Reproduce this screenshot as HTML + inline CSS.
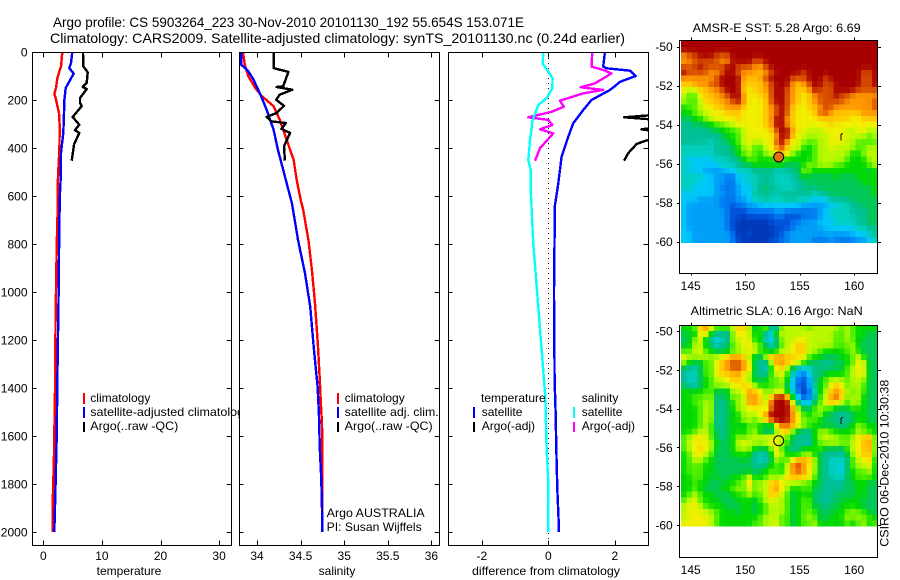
<!DOCTYPE html>
<html lang="en">
<head>
<meta charset="utf-8">
<title>Argo profile CS 5903264_223</title>
<style>
html,body{margin:0;padding:0;background:#fff;}
svg{display:block;}
text{font-family:"Liberation Sans",sans-serif;font-size:12px;fill:#000;}
.big{font-size:14px;}
</style>
</head>
<body>
<svg id="chart" xmlns="http://www.w3.org/2000/svg" width="900" height="580" viewBox="0 0 900 580">
  <defs>
    <clipPath id="diff-clip"><rect x="449" y="53" width="199" height="492"/></clipPath>
    <clipPath id="legend-clip"><rect x="33" y="53" width="206" height="492"/></clipPath>
  </defs>
  <rect x="0" y="0" width="900" height="580" fill="#fff"/>
  <g id="p1"></g>
  <g clip-path="url(#legend-clip)">
    <rect x="83" y="393" width="2" height="11" fill="#f00"/>
    <text x="90.3" y="402">climatology</text>
    <rect x="83" y="407" width="2" height="11" fill="#00f"/>
    <text x="90.3" y="416" textLength="160" lengthAdjust="spacingAndGlyphs">satellite-adjusted climatology</text>
    <rect x="83" y="422" width="2" height="10" fill="#000"/>
    <text x="90.3" y="430" textLength="88" lengthAdjust="spacingAndGlyphs">Argo(..raw -QC)</text>
  </g>
  <g id="p2"></g>
  <g>
    <rect x="337" y="393" width="2" height="11" fill="#f00"/>
    <text x="344.7" y="402">climatology</text>
    <rect x="337" y="407" width="2" height="11" fill="#00f"/>
    <text x="344.7" y="416" textLength="94" lengthAdjust="spacingAndGlyphs">satellite adj. clim.</text>
    <rect x="337" y="422" width="2" height="10" fill="#000"/>
    <text x="344.7" y="430" textLength="88" lengthAdjust="spacingAndGlyphs">Argo(..raw -QC)</text>
    <text x="326.7" y="517" textLength="98" lengthAdjust="spacingAndGlyphs">Argo AUSTRALIA</text>
    <text x="326.7" y="531" textLength="95" lengthAdjust="spacingAndGlyphs">PI: Susan Wijffels</text>
  </g>
  <g id="p3"></g>
  <g>
    <text x="481" y="402">temperature</text>
    <rect x="473" y="407" width="2" height="11" fill="#00f"/>
    <text x="481.7" y="416">satellite</text>
    <rect x="473" y="422" width="2" height="10" fill="#000"/>
    <text x="481.7" y="430">Argo(-adj)</text>
    <text x="581.7" y="402">salinity</text>
    <rect x="573" y="407" width="2" height="11" fill="#0ff"/>
    <text x="581.7" y="416">satellite</text>
    <rect x="573" y="422" width="2" height="10" fill="#f0f"/>
    <text x="581.7" y="430">Argo(-adj)</text>
  </g>
  <g id="m1"></g>
  <g id="m2"></g>

  <text class="big" x="53" y="27" textLength="471" lengthAdjust="spacingAndGlyphs">Argo profile: CS 5903264_223 30-Nov-2010 20101130_192 55.654S 153.071E</text>
  <text class="big" x="50" y="43" textLength="575" lengthAdjust="spacingAndGlyphs">Climatology: CARS2009. Satellite-adjusted climatology: synTS_20101130.nc (0.24d earlier)</text>
  <text x="129" y="575" text-anchor="middle">temperature</text>
  <text x="337" y="575" text-anchor="middle">salinity</text>
  <text x="472" y="575" textLength="148" lengthAdjust="spacingAndGlyphs">difference from climatology</text>
  <text x="692.7" y="32" textLength="168" lengthAdjust="spacingAndGlyphs">AMSR-E SST: 5.28 Argo: 6.69</text>
  <text x="690.7" y="315" textLength="172" lengthAdjust="spacingAndGlyphs">Altimetric SLA: 0.16 Argo: NaN</text>
  <text transform="translate(888.7,546.7) rotate(-90)" textLength="167" lengthAdjust="spacingAndGlyphs">CSIRO 06-Dec-2010 10:30:38</text>
</svg>

<script>
// ---- axis tick values ----
const depthTicks = [0,200,400,600,800,1000,1200,1400,1600,1800,2000];
const tempTicks = [0,10,20,30];
const salTicks = [34,34.5,35,35.5,36];
const diffTicks = [-2,0,2];
const lonTicks = [145,150,155,160];
const latTicks = [-50,-52,-54,-56,-58,-60];

// ---- temperature panel ----
const climTempDepth = [0,60,73,108,150,175,192,226,254,310,407,490,533,615,811,1103,1408,1679,1880,2000];
const climTemp = [3.24,3.02,2.85,2.4,2.17,1.88,2.11,2.4,2.68,2.8,2.74,2.56,2.5,2.5,2.28,2.1,2.0,1.83,1.6,1.6];
const satTempDepth = [0,46,67,90,112,150,199,254,337,420,533,587,713,978,1353,1600,1850,2000];
const satTemp = [4.95,4.73,4.44,5.18,4.67,3.82,3.6,3.53,3.42,3.02,2.96,2.85,2.73,2.62,2.4,2.28,2.05,1.88];
const argoTempDepth = [0,60,67,85,129,146,154,192,212,226,271,303,326,337,386,453];
const argoTemp = [6.77,6.83,7.06,7.57,7.4,6.72,7.4,6.26,6.26,6.55,5.0,6.15,5.4,6.15,5.24,4.85];

// ---- salinity panel ----
const climSalDepth = [0,53,101,150,182,226,282,365,449,533,615,658,783,908,1047,1228,1367,1450,1553,1650,2000];
const climSal = [33.84,33.86,33.9,33.98,34.05,34.19,34.26,34.34,34.42,34.455,34.5,34.53,34.59,34.63,34.665,34.7,34.72,34.73,34.745,34.75,34.75];
const satSalDepth = [0,53,80,115,178,240,324,407,518,533,630,783,922,1061,1242,1394,1505,1650,1782,1978,2000];
const satSal = [33.82,33.82,33.9,33.96,34.04,34.11,34.19,34.24,34.32,34.33,34.4,34.47,34.55,34.61,34.654,34.695,34.71,34.72,34.737,34.75,34.75];
const argoSalDepth = [0,67,83,143,146,157,178,199,224,254,271,289,296,321,337,393,453];
const argoSal = [34.19,34.19,34.36,34.3,34.225,34.405,34.26,34.22,34.31,34.225,34.11,34.17,34.33,34.28,34.38,34.31,34.32];

// ---- difference panel ----
const satTempDiffDepth = [5,61,68,78,100,124,158,200,242,297,353,436,547,640,1000,1367,1500,1650,1820,1950,2000];
const satTempDiff = [1.7,1.65,1.75,2.46,2.63,2.16,1.86,1.3,1.05,0.75,0.6,0.4,0.3,0.2,0.17,0.19,0.22,0.24,0.27,0.31,0.31];
const satSalDiffDepth = [5,47,82,110,151,193,221,283,367,450,492,575,800,1100,1367,1436,1653,1792,2000];
const satSalDiff = [-0.15,-0.17,0,0.13,0.12,-0.05,-0.3,-0.47,-0.55,-0.6,-0.53,-0.53,-0.45,-0.28,-0.13,-0.09,-0.05,0,0];
const argoSalDiffDepth = [5,61,75,89,110,131,147,158,172,203,228,249,272,283,304,322,339,401,453];
const argoSalDiff = [1.32,1.3,1.65,1.9,1.65,1.4,0.97,1.65,1.06,0.35,0.47,0.1,-0.6,0,0.12,-0.25,0.15,-0.25,-0.4];
const argoTempDiffDepth = [255,262,272,283,295,315,322,330,364,383,422,453];
const argoTempDiff = [3.4,3.2,2.28,3.3,3.4,3.2,2.8,3.2,3.05,2.66,2.4,2.28];

// ---- maps ----
const argoLon = 153.071;
const argoLat = -55.654;
const islandLon = [158.95,158.8,158.8];
const islandLat = [-54.45,-54.5,-54.8];
// each row = one latitude band (north to south); each hex digit = colour level 0..15, grouped in sixes for reading
const sstRows = [
"ffffff ffffff ffffff ffffff ffffff ffffff",
"ffffff ffffff ffffff ffffff ffffff ffffff",
"deefff eeefff ffffff ffffff ffffff ffffff",
"ddeeee eddfff feefff ffffff ffffff ffffff",
"eeefee eeffee eddeff ffffff ffffff ffffff",
"feeeed deffed ddcdef ffffef ffffff fffeef",
"dddddd effffd ccdeff ffeeef ffefff fffeef",
"ccddde effffc cccdef ffdcde ffeeff fffeef",
"baaccd defffc bccdef fedccd feeeff ffeeee",
"a99bcc ddeffd bbccef fedcbc deeefe eddddd",
"a99acc cddefd bbbcef fedcbc deeeee ddddde",
"899abb ccdddc bbbcde fecbbc cdeedd ddddde",
"889aab bbcccb bbbcde fecbbb ceedcc cccddd",
"7788aa bbbbcb bbbcdf fdcbbb bccccc cbbccc",
"667778 99aabb bbbcdf fdcbbb bbbcbb bbbbbb",
"666667 78899a bbbbce ffdbba aabbbb aabbaa",
"666666 67889a bbbbbd ffcbaa aaabbb baaa9a",
"666665 66789a baabbe fdbaa9 9aabbb aa9999",
"555555 66678a a99abd ecab88 9aabaa aa99aa",
"555555 666789 a98aab dba888 9aaaaa a88aaa",
"544444 555668 998889 988888 9aaaaa 9888aa",
"554444 455567 788888 87778a 9aaa99 88889a",
"544433 334455 566665 5667a9 888888 888878",
"555544 332244 556665 556687 777787 778888",
"555444 332244 556665 555667 777777 777888",
"554444 322234 456766 555667 677777 777778",
"444444 332234 466665 666666 566777 777778",
"444333 322233 455655 566555 444666 677777",
"433333 322122 334444 444433 333445 566777",
"433333 332111 222223 322222 234555 566677",
"433333 332110 111112 211122 234455 556677",
"433333 332100 000011 112233 344455 556677",
"433333 332100 000001 112333 334444 445566",
"443333 333200 100001 133333 333333 344456",
"443333 333210 000011 223333 222322 223345"
];
const slaRows = [
"889cdb 999acc a78a65 aaaaa9 aaaaa9 a98888",
"787bc7 665abb a89549 aaaaab aaaa99 a98877",
"77ab76 456aab b88546 aaabba aaaa99 a98777",
"78aa87 5679ab ba9757 9abcca aaaa99 9a8777",
"99ab98 77799a bb9878 aabcca a98888 9a8777",
"baaaaa abcddc a76bdd dccbb9 887778 89b877",
"a87799 bcdeed b765ad dccb97 766677 89bb77",
"765799 bcdeed c7658b ca7545 676777 9abb77",
"655799 bcccdb a7669a b95324 768888 9abb77",
"655789 aabccb a77899 a84213 689aaa 9aaa77",
"765789 aaabbc ba8899 a74113 689bcb 9aa977",
"888899 777aab dcba9a a75202 58acdc a9a977",
"88999a 677a9a ddc9cf fe7412 69adec 9aa877",
"8899aa 6678aa ddcaef ffb644 79bcca 9aa877",
"8889aa 6678aa bbbaef ffda77 9a9977 798877",
"8889aa 66788a aabdff ffdb98 9a7766 678877",
"8889aa 66788a a9acff ffdb99 987766 678877",
"8889a9 667887 99876b eddba9 877776 78a988",
"889aa9 767888 9a866a bd9766 8aa988 88a988",
"9abbb9 7678a9 aaabbb a97666 8aaaa9 9abcd9",
"9abbba 8778ab aaaabb a97665 89aaaa 9abcd9",
"9abcba 7778aa a877ab 976688 897776 9abcd9",
"89bba9 777888 86567c a8889a 876666 7abcc9",
"89aa98 777778 76557a 99bddc a76555 69abc8",
"899988 777777 766789 8aeedb a76554 79aab8",
"899988 777777 777899 8adedb a76554 7899a8",
"889987 877889 b889a9 accccb 976655 789998",
"889887 778899 c9aacd baaa99 876666 778877",
"889877 7889a9 b9aacd ba8899 776666 778877",
"89a988 777889 a99acc a97888 766677 778877",
"9ab988 877788 879aba a97899 766677 888777",
"abba98 887778 8789aa a97899 776778 888777",
"abbbaa 988878 8789aa a97899 977788 9a9977",
"abbbba 988888 889aaa 99789a 977888 a9a998",
"bbbbba 988888 899aab 997899 a88888 989a89"
];
const colormap = ["#0038b8","#0050d8","#0078f0","#00a0f8","#00c8f8","#00d0c0","#00c098","#00c858","#00d800","#50f000","#b8f800","#f0f000","#ffc800","#ff9800","#d85000","#a80000"];

// ---- axis functions ----
const depthY = d => 52 + 0.24 * d;
const tempX = v => 43.3 + 5.86 * v;
const salX = v => 257 + 87.2 * (v - 34);
const diffX = v => 548.3 + 33.25 * v;
const lonX = v => 690.7 + 10.9 * (v - 145);
const latY1 = v => 46.7 + 19.5 * (-50 - v);
const latY2 = v => 331 + 19.4 * (-50 - v);

function levelColor(level) {
  const lo = Math.max(0, Math.min(14, Math.floor(level)));
  const t = Math.max(0, Math.min(1, level - lo));
  const a = colormap[lo], b = colormap[lo + 1];
  const ch = i => Math.round(parseInt(a.substr(i, 2), 16) * (1 - t) + parseInt(b.substr(i, 2), 16) * t);
  return "rgb(" + ch(1) + "," + ch(3) + "," + ch(5) + ")";
}

const NS = "http://www.w3.org/2000/svg";
function mk(parent, tag, attrs) {
  const el = document.createElementNS(NS, tag);
  for (const k in attrs) el.setAttribute(k, attrs[k]);
  parent.appendChild(el);
  return el;
}
function tick(parent, x1, y1, x2, y2) {
  const el = mk(parent, "line", {x1:x1, y1:y1, x2:x2, y2:y2, stroke:"#000", "stroke-width":1, "shape-rendering":"crispEdges"});
  
  
}
function label(parent, x, y, anchor, str) {
  const el = mk(parent, "text", {x:x, y:y, "text-anchor":anchor});
  el.textContent = str;
  
  
}
function frame(parent, x0, y0, x1, y1) {
  const el = mk(parent, "rect", {x:x0, y:y0, width:x1-x0, height:y1-y0, fill:"none", stroke:"#000", "stroke-width":1, "shape-rendering":"crispEdges"});
  
  
}
function background(parent, x0, y0, x1, y1) {
  const el = mk(parent, "rect", {x:x0, y:y0, width:x1-x0, height:y1-y0, fill:"#fff"});
  
  
}
function series(parent, name, depths, values, xFn, color, clip) {
  const pts = depths.map((d, i) => xFn(values[i]).toFixed(1) + "," + depthY(d).toFixed(1)).join(" ");
  const el = mk(parent, "polyline", {points:pts, fill:"none", stroke:color, "stroke-width":2.4, "stroke-linejoin":"round", "shape-rendering":"crispEdges"});
  if (clip) el.setAttribute("clip-path", "url(#" + clip + ")");
  
  
}
function profileAxes(parent, x0, x1, xTicks, xFn, yLabels) {
  background(parent, x0, 52, x1 + 1, 546);
  xTicks.forEach(v => {
    const x = Math.round(xFn(v)) + 0.5;
    tick(parent, x, 52.5, x, 57.5);
    tick(parent, x, 540.5, x, 545.5);
    label(parent, xFn(v), 560, "middle", String(v));
  });
  depthTicks.forEach(d => {
    const y = Math.round(depthY(d)) + 0.5;
    tick(parent, x0, y, x0 + 4, y);
    tick(parent, x1 - 5, y, x1, y);
    if (yLabels) label(parent, 27.5, depthY(d) + 4.5, "end", String(d));
  });
}

// Panel 1
const p1 = document.getElementById("p1");
profileAxes(p1, 32.5, 231.5, tempTicks, tempX, true);
series(p1, "climatology-temperature-line", climTempDepth, climTemp, tempX, "#f00");
series(p1, "satellite-temperature-line", satTempDepth, satTemp, tempX, "#00f");
series(p1, "argo-temperature-line", argoTempDepth, argoTemp, tempX, "#000");
frame(p1, 32.5, 52.5, 231.5, 545.5);

// Panel 2
const p2 = document.getElementById("p2");
profileAxes(p2, 239.5, 439.5, salTicks, salX, false);
series(p2, "climatology-salinity-line", climSalDepth, climSal, salX, "#f00");
series(p2, "satellite-salinity-line", satSalDepth, satSal, salX, "#00f");
series(p2, "argo-salinity-line", argoSalDepth, argoSal, salX, "#000");
frame(p2, 239.5, 52.5, 439.5, 545.5);

// Panel 3
const p3 = document.getElementById("p3");
profileAxes(p3, 448.5, 648.5, diffTicks, diffX, false);
const zeroLine = mk(p3, "line", {x1:Math.round(diffX(0))+0.5, y1:53, x2:Math.round(diffX(0))+0.5, y2:545, stroke:"#000", "stroke-width":1, "stroke-dasharray":"1 4", "shape-rendering":"crispEdges"});


series(p3, "argo-temperature-difference-line", argoTempDiffDepth, argoTempDiff, diffX, "#000", "diff-clip");
series(p3, "satellite-temperature-difference-line", satTempDiffDepth, satTempDiff, diffX, "#00f", "diff-clip");
series(p3, "argo-salinity-difference-line", argoSalDiffDepth, argoSalDiff, diffX, "#f0f", "diff-clip");
series(p3, "satellite-salinity-difference-line", satSalDiffDepth, satSalDiff, diffX, "#0ff", "diff-clip");
frame(p3, 448.5, 52.5, 648.5, 545.5);

// Maps
function drawMap(parent, rows, latY, top, bottom, labelBase, markerFill, bottomTicks) {
  const lat0 = -49.71, latStep = 0.2955, lon0 = 144.12, lonStep = 0.5;
  const grid = rows.map(row => row.replace(/ /g, "").split("").map(ch => parseInt(ch, 16)));
  const at = (r, c) => (grid[r] && grid[r][c] !== undefined) ? grid[r][c] : grid[r < 0 ? 0 : Math.min(r, grid.length - 1)][Math.max(0, Math.min(c, 35))];
  grid.forEach((cells, r) => {
    const yTop = latY(lat0 - r * latStep);
    const yBot = latY(lat0 - (r + 1) * latStep);
    cells.forEach((level, c) => {
      const shaded = (4 * level + at(r - 1, c) + at(r + 1, c) + at(r, c - 1) + at(r, c + 1)) / 8;
      const xL = lonX(lon0 + c * lonStep);
      const xR = lonX(lon0 + (c + 1) * lonStep);
      const cell = mk(parent, "rect", {x:xL.toFixed(2), y:yTop.toFixed(2), width:(xR-xL+0.3).toFixed(2), height:(yBot-yTop+0.3).toFixed(2), fill:levelColor(shaded), "shape-rendering":"crispEdges"});
      
      
    });
  });
  const island = mk(parent, "polyline", {points:islandLon.map((v,i)=>lonX(v).toFixed(1)+","+latY(islandLat[i]).toFixed(1)).join(" "), fill:"none", stroke:"#000", "stroke-width":1, "shape-rendering":"crispEdges"});
  
  
  const marker = mk(parent, "circle", {cx:lonX(argoLon).toFixed(1), cy:latY(argoLat).toFixed(1), r:5, fill:markerFill, stroke:"#000", "stroke-width":1});
  
  
  frame(parent, 679.5, top, 877.5, bottom);
  lonTicks.forEach(v => {
    const x = Math.round(lonX(v)) + 0.5;
    tick(parent, x, top - 3, x, top);
    if (bottomTicks) tick(parent, x, bottom, x, bottom + 2);
    label(parent, lonX(v), labelBase, "middle", String(v));
  });
  latTicks.forEach(v => {
    const y = Math.round(latY(v)) + 0.5;
    tick(parent, 677, y, 679.5, y);
    tick(parent, 877.5, y, 881, y);
    label(parent, 672.7, latY(v) + 4.5, "end", String(v));
  });
}
drawMap(document.getElementById("m1"), sstRows, latY1, 40.5, 273.5, 290, "#e07010", true);
drawMap(document.getElementById("m2"), slaRows, latY2, 325.5, 557.5, 574, "none", false);
</script>
</body>
</html>
